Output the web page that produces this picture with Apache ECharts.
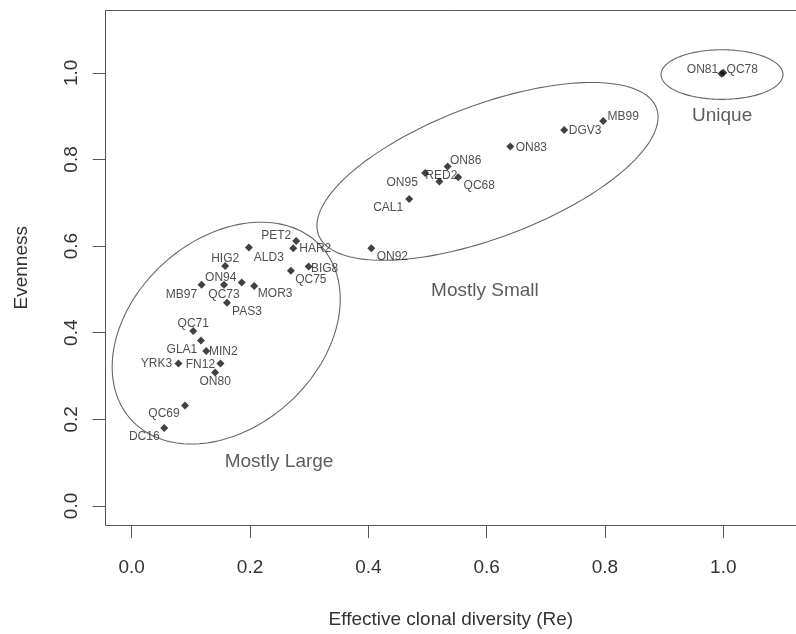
<!DOCTYPE html>
<html><head><meta charset="utf-8">
<script src="https://cdn.jsdelivr.net/npm/echarts@6/dist/echarts.min.js"></script>
<style>html,body{margin:0;padding:0;background:#fff}#c{width:796px;height:634px}</style>
</head><body><div id="c"></div>
<script>
// ---- data ----
const siteNames = ["DC16","QC69","YRK3","FN12","ON80","MIN2","GLA1","QC71","PAS3","MB97","QC73","ON94","HIG2","MOR3","ALD3","PET2","HAR2","BIG8","QC75",
  "ON92","CAL1","ON95","RED2","QC68","ON86","ON83","DGV3","MB99","ON81","QC78"];
const clonalDiversity = [0.055,0.090,0.079,0.150,0.141,0.126,0.117,0.104,0.161,0.118,0.156,0.186,0.158,0.207,0.198,0.278,0.273,0.299,0.269,
  0.405,0.469,0.496,0.520,0.552,0.534,0.640,0.731,0.797,0.997,1.000];
const evenness = [0.180,0.232,0.329,0.329,0.308,0.358,0.382,0.404,0.469,0.511,0.511,0.516,0.554,0.508,0.597,0.612,0.595,0.553,0.543,
  0.595,0.709,0.769,0.749,0.759,0.784,0.830,0.868,0.889,0.998,1.000];
const xTicks = [0.0,0.2,0.4,0.6,0.8,1.0];
const yTicks = [0.0,0.2,0.4,0.6,0.8,1.0];
// group ellipses: centre and two conjugate semi-axis vectors (data units)
const groupNames = ["Mostly Large","Mostly Small","Unique"];
const groupCentreX = [0.1597,0.6014,0.9978];
const groupCentreY = [0.3991,0.7725,0.9961];
const groupAxisU = [[0.1594,0.2018],[0.2855,0.1468],[0.1031,0.0]];
const groupAxisV = [[-0.1084,0.1577],[-0.0401,0.1435],[0.0,0.0573]];
const groupLabelX = [0.249,0.597,0.998];
const groupLabelY = [0.102,0.498,0.900];

// ---- style: label offsets (px) ----
const labelOffsets = {
  DC16:[-20,9],QC69:[-21,8],YRK3:[-22,0],FN12:[-20,1],ON80:[0,9],MIN2:[17,1],GLA1:[-19,9],QC71:[0,-7],PAS3:[20,9],
  MB97:[-20,10],QC73:[0,10],ON94:[-21,-5],HIG2:[0,-7],MOR3:[21,8],ALD3:[20,10],PET2:[-20,-5],HAR2:[22,0],BIG8:[16,2],QC75:[20,9],
  ON92:[21,8],CAL1:[-21,9],ON95:[-23,10],RED2:[2,-6],QC68:[21,8],ON86:[18,-6],ON83:[21,1],DGV3:[21,1],MB99:[20,-4],ON81:[-19,-4],QC78:[19,-3]
};

const FONT = "'Liberation Sans', Arial, Helvetica, sans-serif";
const TXT = '#333';
const FRAME = '#555';
const X_MIN = -0.044, X_MAX = 1.1229, Y_MIN = -0.044, Y_MAX = 1.144;

const pts = siteNames.map((n,i)=>({
  value:[clonalDiversity[i], evenness[i]], name:n,
  label:{show:true, position:'inside', formatter:n, offset:labelOffsets[n]||[0,0]}
}));

const chart = echarts.init(document.getElementById('c'), null, {renderer:'canvas'});
chart.setOption({
  animation:false,
  backgroundColor:'#fff',
  grid:{left:105.7, right:0, top:10.5, bottom:105.5, show:false},
  xAxis:[{type:'value', min:X_MIN, max:X_MAX, position:'bottom',
    name:'Effective clonal diversity (Re)', nameLocation:'middle', nameGap:85,
    nameTextStyle:{fontFamily:FONT, fontSize:19, color:TXT},
    axisLine:{show:true, onZero:false, lineStyle:{color:FRAME, width:1}}, splitLine:{show:false},
    axisTick:{show:true, customValues:xTicks, length:13, lineStyle:{color:FRAME}},
    axisLabel:{customValues:xTicks, margin:33, fontFamily:FONT, fontSize:19, color:TXT, formatter:v=>v.toFixed(1)}
  },{type:'value', min:X_MIN, max:X_MAX, position:'top',
    axisLine:{show:true, onZero:false, lineStyle:{color:FRAME, width:1}},
    axisTick:{show:false}, axisLabel:{show:false}, splitLine:{show:false}
  }],
  yAxis:{type:'value', min:Y_MIN, max:Y_MAX,
    name:'Evenness', nameLocation:'middle', nameGap:74,
    nameTextStyle:{fontFamily:FONT, fontSize:19, color:TXT},
    axisLine:{show:true, onZero:false, lineStyle:{color:FRAME, width:1}}, splitLine:{show:false},
    axisTick:{show:true, customValues:yTicks, length:13, lineStyle:{color:FRAME}},
    axisLabel:{customValues:yTicks, rotate:90, margin:24, fontFamily:FONT, fontSize:19, color:TXT, formatter:v=>v.toFixed(1)}
  },
  series:[
    {type:'custom', z:1, silent:true, clip:false,
      data:groupNames.map((g,i)=>[groupCentreX[i], groupCentreY[i]]),
      renderItem:function(params, api){
        const i = params.dataIndex;
        const u = groupAxisU[i], v = groupAxisV[i];
        const cx = groupCentreX[i], cy = groupCentreY[i];
        const points = [];
        for(let k=0;k<=180;k++){
          const t = k/180*Math.PI*2;
          points.push(api.coord([cx + u[0]*Math.cos(t) + v[0]*Math.sin(t), cy + u[1]*Math.cos(t) + v[1]*Math.sin(t)]));
        }
        return {type:'polyline', shape:{points:points}, style:{fill:null, stroke:'#666', lineWidth:1.1}};
      }
    },
    {type:'scatter', z:3, symbol:'diamond', symbolSize:8, itemStyle:{color:'#111'},
      label:{fontFamily:FONT, fontSize:12, color:'#222'},
      data:pts
    },
    {type:'scatter', z:2, symbolSize:0, silent:true,
      label:{show:true, position:'inside', fontFamily:FONT, fontSize:19, color:TXT, formatter:p=>p.name},
      data:groupNames.map((g,i)=>({name:g, value:[groupLabelX[i], groupLabelY[i]]}))
    }
  ]
});
</script></body></html>
